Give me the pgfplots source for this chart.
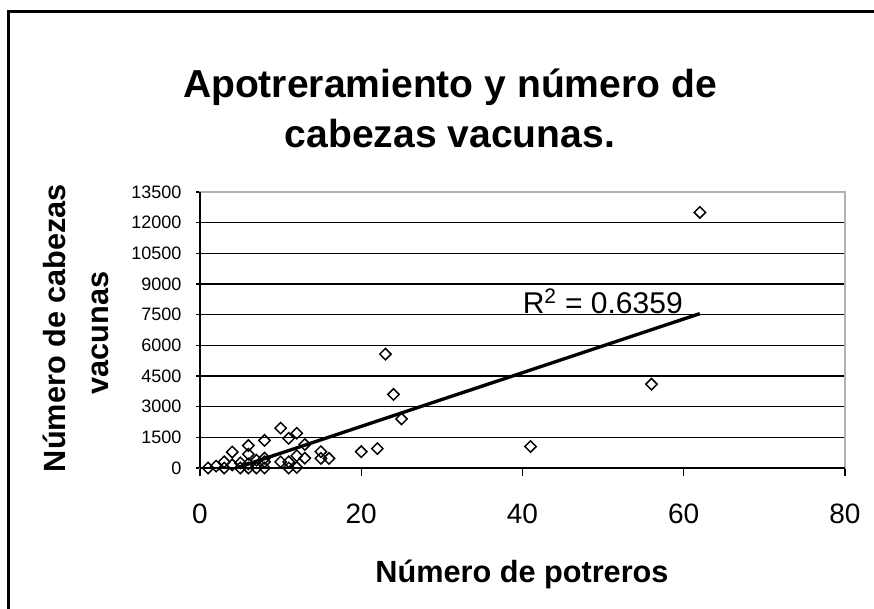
\documentclass[border=0pt]{standalone}
\usepackage{pgfplots}
\pgfplotsset{compat=1.18}
\usepackage{fontspec}
\setmainfont{Liberation Sans}
\begin{document}
\begin{tikzpicture}[x=0.75pt,y=0.75pt]
\useasboundingbox (0,0) rectangle (874,608);
\draw[line width=1.6pt] (8.5,-20) -- (8.5,596.5) -- (900,596.5);
\node[font=\bfseries\fontsize{29.3}{35}\selectfont, anchor=base, inner sep=0pt] at (450,510) {Apotreramiento y número de};
\node[font=\bfseries\fontsize{29.3}{35}\selectfont, anchor=base, inner sep=0pt] at (450,460) {cabezas vacunas.};
\node[rotate=90, anchor=base, inner sep=0pt, font=\bfseries\fontsize{23}{28}\selectfont] at (65,280) {Número de cabezas};
\node[rotate=90, anchor=base, inner sep=0pt, font=\bfseries\fontsize{23}{28}\selectfont] at (108,275) {vacunas};
\node[anchor=base, inner sep=0pt, font=\bfseries\fontsize{23}{28}\selectfont] at (522,26) {Número de potreros};
\begin{axis}[
  at={(150pt,105pt)}, anchor=south west,
  width=483.75pt, height=207pt, scale only axis,
  xmin=0, xmax=80, ymin=0, ymax=13500,
  xtick={0,20,40,60,80},
  ytick={0,1500,3000,4500,6000,7500,9000,10500,12000,13500},
  scaled y ticks=false, scaled x ticks=false,
  xtick pos=left, ytick pos=left,
  ymajorgrids, grid style={black, line width=1.1pt},
  axis line style={gray!60, line width=1pt},
  tick align=outside, major tick length=3pt,
  tick style={black, line width=1pt},
  xtick style={/pgfplots/major tick length=5.8pt},
  /pgf/number format/assume math mode=true,
  /pgf/number format/1000 sep={},
  yticklabel style={font=\fontsize{13.5}{16}\selectfont, inner sep=0pt, anchor=east, xshift=-10.7pt},
  xticklabel style={font=\fontsize{21}{25}\selectfont, inner sep=0pt, anchor=north, yshift=-24pt},
  clip mode=individual,
]
\addplot[only marks, mark=square, mark size=3pt, mark options={rotate=45, draw=black, line width=1.1pt, solid}] table {
x y
1 0
2 90
3 0
3 300
4 780
4 150
5 0
5 250
6 1100
6 680
6 200
6 0
7 380
7 0
8 1350
8 480
8 300
8 0
10 1950
10 300
11 1450
11 300
11 0
12 1700
12 600
12 30
13 1150
13 480
15 800
15 470
16 470
20 800
22 950
23 5570
24 3600
25 2400
41 1050
56 4100
62 12500
};
\addplot[black, line width=2.5pt, no marks] coordinates {(4.49,0) (62,7551)};
\draw[black, line width=1.5pt] (axis cs:0,0) -- (axis cs:0,13500);
\draw[black, line width=1.5pt] (axis cs:0,0) -- (axis cs:80,0);
\node[anchor=base west, inner sep=0pt, font=\fontsize{22.5}{27}\selectfont] at (axis cs:40,7560) {R\textsuperscript{2} = 0.6359};
\end{axis}
\end{tikzpicture}
\end{document}
